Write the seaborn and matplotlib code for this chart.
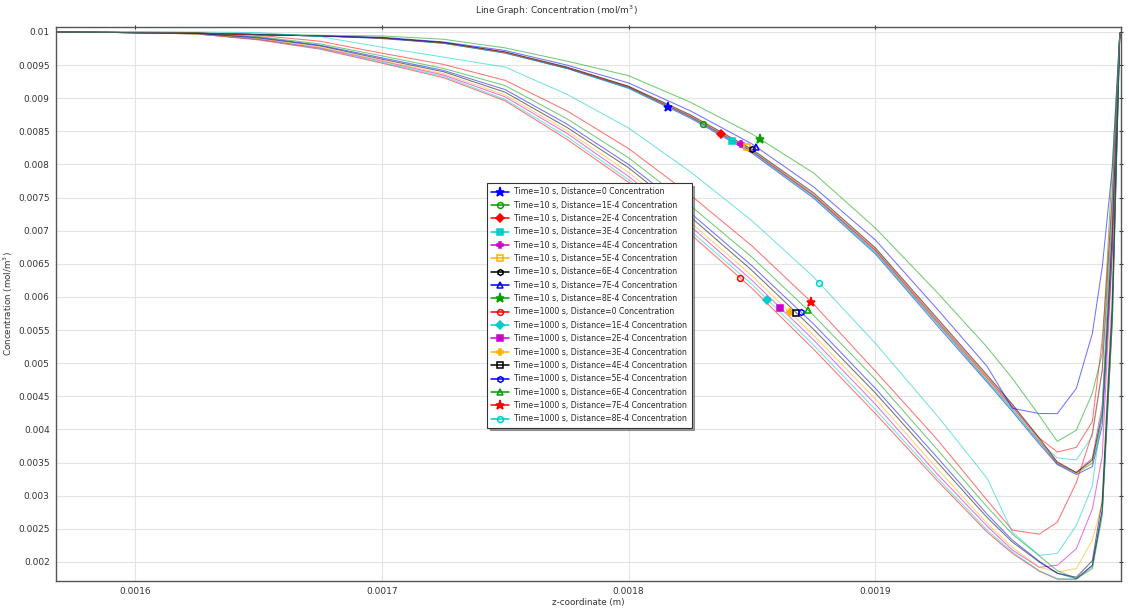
import numpy as np
import pandas as pd
import matplotlib
matplotlib.use("Agg")
import matplotlib.pyplot as plt
from matplotlib.lines import Line2D
from matplotlib.ticker import FuncFormatter, MultipleLocator
import seaborn as sns

# ---------------- data ----------------
z = [0.001568, 0.0016, 0.001625, 0.00165, 0.001675, 0.0017, 0.001725, 0.00175,
     0.001775, 0.0018, 0.001825, 0.00185, 0.001875, 0.0019, 0.001925, 0.0019453,
     0.0019555, 0.0019664, 0.0019737, 0.0019814, 0.0019879, 0.0019919, 0.001996, 0.001999]

# Time = 10 s
t10_d0 = [0.01000, 0.00999, 0.00998, 0.00996, 0.00994, 0.00990, 0.00983, 0.00968, 0.00945, 0.00915, 0.00870, 0.00817,
          0.00749, 0.00665, 0.00557, 0.00471, 0.00427, 0.00378, 0.00347, 0.00332, 0.00344, 0.00406, 0.00671, 0.00995]
t10_d1 = [0.01000, 0.00999, 0.00998, 0.00996, 0.00994, 0.00991, 0.00983, 0.00969, 0.00945, 0.00916, 0.00872, 0.00819,
          0.00752, 0.00668, 0.00561, 0.00474, 0.00431, 0.00381, 0.00348, 0.00334, 0.00349, 0.00417, 0.00686, 0.00995]
t10_d2 = [0.01000, 0.00999, 0.00998, 0.00996, 0.00994, 0.00991, 0.00984, 0.00969, 0.00946, 0.00917, 0.00872, 0.00820,
          0.00753, 0.00670, 0.00563, 0.00477, 0.00434, 0.00387, 0.00366, 0.00373, 0.00412, 0.00535, 0.00746, 0.00997]
t10_d3 = [0.01000, 0.00999, 0.00998, 0.00996, 0.00994, 0.00991, 0.00983, 0.00968, 0.00945, 0.00915, 0.00871, 0.00819,
          0.00751, 0.00666, 0.00560, 0.00473, 0.00429, 0.00381, 0.00357, 0.00354, 0.00390, 0.00489, 0.00724, 0.00997]
t10_d4 = [0.01000, 0.00999, 0.00998, 0.00996, 0.00994, 0.00991, 0.00984, 0.00969, 0.00946, 0.00917, 0.00873, 0.00821,
          0.00754, 0.00671, 0.00565, 0.00479, 0.00435, 0.00384, 0.00349, 0.00335, 0.00357, 0.00437, 0.00708, 0.00997]
t10_d5 = [0.01000, 0.00999, 0.00998, 0.00996, 0.00994, 0.00991, 0.00984, 0.00969, 0.00947, 0.00918, 0.00874, 0.00822,
          0.00755, 0.00673, 0.00566, 0.00480, 0.00437, 0.00385, 0.00351, 0.00334, 0.00352, 0.00429, 0.00704, 0.00997]
t10_d6 = [0.01000, 0.00999, 0.00998, 0.00996, 0.00994, 0.00991, 0.00984, 0.00970, 0.00947, 0.00918, 0.00875, 0.00823,
          0.00757, 0.00674, 0.00568, 0.00482, 0.00438, 0.00387, 0.00351, 0.00335, 0.00354, 0.00424, 0.00699, 0.00997]
t10_d7 = [0.01000, 0.00999, 0.00998, 0.00996, 0.00994, 0.00992, 0.00985, 0.00972, 0.00950, 0.00923, 0.00881, 0.00831,
          0.00766, 0.00686, 0.00582, 0.00495, 0.00432, 0.00424, 0.00424, 0.00462, 0.00545, 0.00645, 0.00796, 0.00998]
t10_d8 = [0.01000, 0.00999, 0.00998, 0.00997, 0.00995, 0.00994, 0.00989, 0.00976, 0.00956, 0.00934, 0.00894, 0.00846,
          0.00787, 0.00704, 0.00607, 0.00524, 0.00477, 0.00421, 0.00382, 0.00399, 0.00455, 0.00515, 0.00800, 0.00998]

# Time = 1000 s
t1000_d0 = [0.01000, 0.00999, 0.00997, 0.00988, 0.00974, 0.00953, 0.00931, 0.00896, 0.00838, 0.00773, 0.00695, 0.00613,
            0.00521, 0.00424, 0.00323, 0.00245, 0.00213, 0.00186, 0.00174, 0.00174, 0.00195, 0.00278, 0.00565, 0.00995]
t1000_d1 = [0.01000, 0.00999, 0.00997, 0.00989, 0.00975, 0.00954, 0.00933, 0.00898, 0.00842, 0.00777, 0.00700, 0.00619,
            0.00527, 0.00430, 0.00327, 0.00248, 0.00215, 0.00187, 0.00175, 0.00174, 0.00193, 0.00275, 0.00565, 0.00995]
t1000_d2 = [0.01000, 0.00999, 0.00997, 0.00989, 0.00976, 0.00956, 0.00935, 0.00902, 0.00847, 0.00782, 0.00707, 0.00625,
            0.00535, 0.00438, 0.00333, 0.00254, 0.00218, 0.00192, 0.00195, 0.00220, 0.00280, 0.00360, 0.00671, 0.00997]
t1000_d3 = [0.01000, 0.00999, 0.00997, 0.00990, 0.00977, 0.00957, 0.00937, 0.00905, 0.00851, 0.00788, 0.00713, 0.00632,
            0.00542, 0.00446, 0.00341, 0.00258, 0.00222, 0.00192, 0.00185, 0.00190, 0.00233, 0.00290, 0.00625, 0.00997]
t1000_d4 = [0.01000, 0.00999, 0.00998, 0.00991, 0.00979, 0.00959, 0.00940, 0.00909, 0.00856, 0.00795, 0.00721, 0.00640,
            0.00551, 0.00455, 0.00351, 0.00267, 0.00230, 0.00200, 0.00183, 0.00177, 0.00202, 0.00293, 0.00595, 0.00997]
t1000_d5 = [0.01000, 0.00999, 0.00998, 0.00992, 0.00980, 0.00961, 0.00942, 0.00913, 0.00861, 0.00800, 0.00727, 0.00647,
            0.00559, 0.00462, 0.00358, 0.00272, 0.00233, 0.00201, 0.00183, 0.00175, 0.00195, 0.00278, 0.00580, 0.00997]
t1000_d6 = [0.01000, 0.00999, 0.00999, 0.00993, 0.00982, 0.00964, 0.00945, 0.00919, 0.00869, 0.00810, 0.00738, 0.00660,
            0.00572, 0.00476, 0.00370, 0.00283, 0.00242, 0.00209, 0.00187, 0.00175, 0.00190, 0.00270, 0.00565, 0.00997]
t1000_d7 = [0.01000, 0.01000, 0.00999, 0.00995, 0.00986, 0.00968, 0.00951, 0.00927, 0.00881, 0.00824, 0.00754, 0.00677,
            0.00589, 0.00488, 0.00385, 0.00293, 0.00248, 0.00242, 0.00260, 0.00320, 0.00395, 0.00490, 0.00760, 0.00998]
t1000_d8 = [0.01000, 0.01000, 0.01000, 0.00999, 0.00993, 0.00977, 0.00962, 0.00947, 0.00906, 0.00855, 0.00789, 0.00715,
            0.00630, 0.00530, 0.00421, 0.00326, 0.00245, 0.00210, 0.00213, 0.00255, 0.00315, 0.00430, 0.00746, 0.00997]

labels = ["Time=10 s, Distance=0 Concentration",
          "Time=10 s, Distance=1E-4 Concentration",
          "Time=10 s, Distance=2E-4 Concentration",
          "Time=10 s, Distance=3E-4 Concentration",
          "Time=10 s, Distance=4E-4 Concentration",
          "Time=10 s, Distance=5E-4 Concentration",
          "Time=10 s, Distance=6E-4 Concentration",
          "Time=10 s, Distance=7E-4 Concentration",
          "Time=10 s, Distance=8E-4 Concentration",
          "Time=1000 s, Distance=0 Concentration",
          "Time=1000 s, Distance=1E-4 Concentration",
          "Time=1000 s, Distance=2E-4 Concentration",
          "Time=1000 s, Distance=3E-4 Concentration",
          "Time=1000 s, Distance=4E-4 Concentration",
          "Time=1000 s, Distance=5E-4 Concentration",
          "Time=1000 s, Distance=6E-4 Concentration",
          "Time=1000 s, Distance=7E-4 Concentration",
          "Time=1000 s, Distance=8E-4 Concentration"]

series = [t10_d0, t10_d1, t10_d2, t10_d3, t10_d4, t10_d5, t10_d6, t10_d7, t10_d8,
          t1000_d0, t1000_d1, t1000_d2, t1000_d3, t1000_d4, t1000_d5, t1000_d6, t1000_d7, t1000_d8]

# z-position of the single marker drawn on each curve
marker_z = [0.0018158, 0.0018301, 0.0018375, 0.001842, 0.0018456, 0.0018481, 0.0018501, 0.0018518, 0.0018534,
            0.0018453, 0.0018562, 0.0018615, 0.0018652, 0.001868, 0.00187, 0.0018725, 0.001874, 0.0018773]

# ---------------- style ----------------
color_cycle = ["#0000ff", "#00a000", "#ff0000", "#00cccc", "#cc00cc", "#ffb000", "#000000"]
marker_cycle = [("*", True), ("o", False), ("D", True), ("s", True), ("P", True),
                ("s", False), ("h", False), ("^", False)]

sns.set_theme(style="white")
plt.rcParams["font.family"] = ["DejaVu Sans"]

fig = plt.figure(figsize=(11.29, 6.08), dpi=100)
ax = fig.add_axes([56 / 1129, 1 - 581 / 608, (1121 - 56) / 1129, (581 - 27) / 608])

handles = []
for i, (vals, lab) in enumerate(zip(series, labels)):
    col = color_cycle[i % 7]
    mk, filled = marker_cycle[i % 8]
    df = pd.DataFrame({"z": z, "c": vals})
    sns.lineplot(data=df, x="z", y="c", ax=ax, color=col, lw=0.75, alpha=0.55,
                 sort=False, estimator=None, legend=False)
    my = np.interp(marker_z[i], z, vals)
    ms = 6.5 if mk == "*" else 4.2
    mfc = col if filled else "none"
    ax.plot([marker_z[i]], [my], marker=mk, color=col, ms=ms, mfc=mfc, mec=col, mew=1.1, ls="none", zorder=5)
    handles.append(Line2D([0], [0], color=col, lw=1.1, marker=mk, ms=ms, mfc=mfc, mec=col, mew=1.1))

ax.set_xlim(0.001568, 0.0019995)
ax.set_ylim(0.001713, 0.010075)
ax.xaxis.set_major_locator(MultipleLocator(0.0001))
ax.yaxis.set_major_locator(MultipleLocator(0.0005))
fmt = FuncFormatter(lambda v, p: "%g" % round(v, 7))
ax.xaxis.set_major_formatter(fmt)
ax.yaxis.set_major_formatter(fmt)
ax.grid(True, color="#e4e4e4", lw=0.8)
ax.set_axisbelow(True)
for s in ax.spines.values():
    s.set_color("#555555")
    s.set_linewidth(1.0)
ax.tick_params(axis="both", which="major", labelsize=6.5, colors="#333333", length=3, width=0.8,
               direction="inout", top=True, right=True, pad=3)
ax.set_xlabel("z-coordinate (m)", fontsize=6.3, color="#333333", labelpad=1)
ax.set_ylabel("Concentration (mol/m$^3$)", fontsize=6.3, color="#333333", labelpad=2)

fig.text(556 / 1129, 1 - 11 / 608, "Line Graph: Concentration (mol/m$^3$)", ha="center", va="center",
         fontsize=6.5, color="#333333")

leg = ax.legend(handles, labels, loc="upper left", bbox_to_anchor=((487 - 56) / 1065, (581 - 183) / 554),
                fontsize=5.6, frameon=True, fancybox=False, shadow=True, edgecolor="#333333",
                framealpha=1.0, handlelength=2.3, labelspacing=0.56, borderpad=0.55, handletextpad=0.65,
                borderaxespad=0.0)
leg.get_frame().set_linewidth(0.8)

fig.savefig("out.png", dpi=100)
